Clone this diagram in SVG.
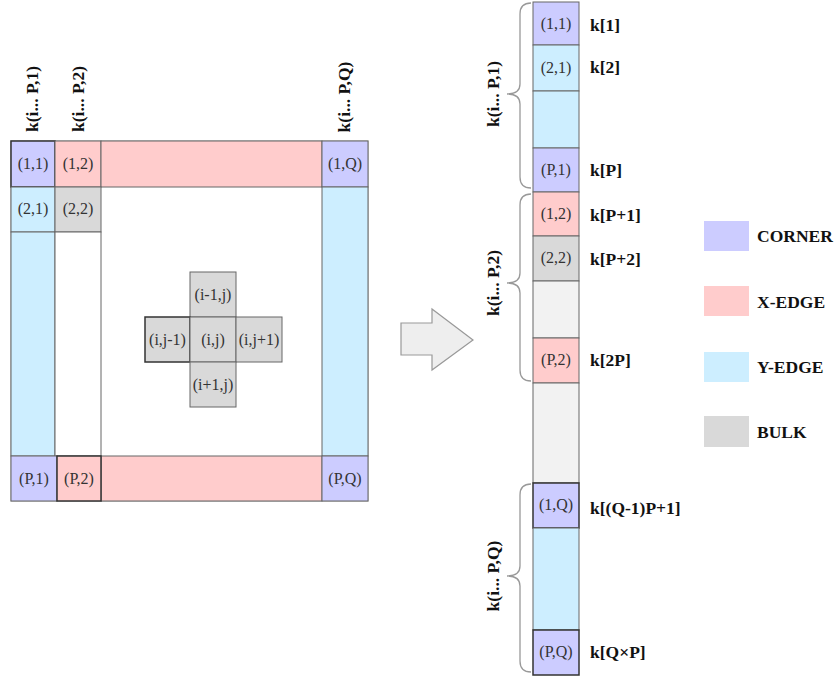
<svg xmlns="http://www.w3.org/2000/svg" width="837" height="678" viewBox="0 0 837 678">
  <style>
    .corner { fill: #ccccff; }
    .xedge { fill: #ffcccc; }
    .yedge { fill: #cdeeff; }
    .bulk { fill: #d9d9d9; }
    .bulk-lt { fill: #f2f2f2; }
    .cell { stroke: #666; stroke-width: 1; }
    .dark { stroke: #333; stroke-width: 1.5; }
    .lbl { font-family: "Liberation Serif", "Times New Roman", serif; font-size: 16px; fill: #333; text-anchor: middle; }
    .key { font-family: "Liberation Serif", "Times New Roman", serif; font-size: 17.5px; font-weight: bold; fill: #111; }
    .rot { font-family: "Liberation Serif", "Times New Roman", serif; font-size: 17.5px; font-weight: bold; fill: #111; text-anchor: middle; }
    .brace { fill: none; stroke: #999; stroke-width: 1.3; }
  </style>

  <!-- 2D grid -->
  <g id="grid">
    <rect x="11" y="141" width="357" height="360" fill="#fff" stroke="#999"/>
    <!-- top row -->
    <rect class="corner dark" x="11" y="141" width="44" height="46"/>
    <rect class="xedge cell" x="55" y="141" width="46" height="46"/>
    <rect class="xedge cell" x="101" y="141" width="221" height="46"/>
    <rect class="corner cell" x="322" y="141" width="46" height="46"/>
    <!-- column 1 -->
    <rect class="yedge cell" x="11" y="187" width="44" height="45"/>
    <rect class="yedge cell" x="11" y="232" width="44" height="224"/>
    <!-- column 2 -->
    <rect class="bulk cell" x="55" y="187" width="46" height="45"/>
    <rect fill="#fff" class="cell" x="55" y="232" width="46" height="224"/>
    <!-- column Q -->
    <rect class="yedge cell" x="322" y="187" width="46" height="269"/>
    <!-- bottom row -->
    <rect class="corner cell" x="11" y="456" width="46" height="45"/>
    <rect class="xedge cell" x="101" y="456" width="221" height="45"/>
    <rect class="corner cell" x="322" y="456" width="46" height="45"/>
    <rect class="xedge dark" x="57" y="456" width="44" height="45"/>

    <text class="lbl" x="33" y="169">(1,1)</text>
    <text class="lbl" x="78" y="169">(1,2)</text>
    <text class="lbl" x="345" y="169">(1,Q)</text>
    <text class="lbl" x="33" y="214">(2,1)</text>
    <text class="lbl" x="78" y="214">(2,2)</text>
    <text class="lbl" x="34" y="484">(P,1)</text>
    <text class="lbl" x="79" y="484">(P,2)</text>
    <text class="lbl" x="345" y="484">(P,Q)</text>

    <text class="rot" transform="translate(38,99) rotate(-90)">k(i... P,1)</text>
    <text class="rot" transform="translate(84,99) rotate(-90)">k(i... P,2)</text>
    <text class="rot" transform="translate(350,97) rotate(-90)">k(i... P,Q)</text>
  </g>

  <!-- five-point stencil -->
  <g id="stencil">
    <rect class="bulk cell" x="190" y="272" width="46" height="45"/>
    <rect class="bulk dark" x="145" y="317" width="45" height="45"/>
    <rect class="bulk cell" x="190" y="317" width="46" height="45"/>
    <rect class="bulk cell" x="236" y="317" width="46" height="45"/>
    <rect class="bulk cell" x="190" y="362" width="46" height="45"/>
    <text class="lbl" x="213" y="300">(i-1,j)</text>
    <text class="lbl" x="167.5" y="345">(i,j-1)</text>
    <text class="lbl" x="213" y="345">(i,j)</text>
    <text class="lbl" x="259" y="345">(i,j+1)</text>
    <text class="lbl" x="213" y="390">(i+1,j)</text>
  </g>

  <!-- mapping arrow -->
  <g id="arrow">
    <polygon points="401,323 432,323 432,309 473,340 432,370 432,355 401,355" fill="#eeeeee" stroke="#999" stroke-width="1.2"/>
  </g>

  <!-- 1D vector -->
  <g id="vector">
    <rect class="corner cell" x="533" y="2" width="46" height="43"/>
    <rect class="yedge cell" x="533" y="45" width="46" height="46"/>
    <rect class="yedge cell" x="533" y="91" width="46" height="57"/>
    <rect class="corner cell" x="533" y="148" width="46" height="44"/>
    <rect class="xedge cell" x="533" y="192" width="46" height="44"/>
    <rect class="bulk cell" x="533" y="236" width="46" height="45"/>
    <rect class="bulk-lt cell" x="533" y="281" width="46" height="57"/>
    <rect class="xedge cell" x="533" y="338" width="46" height="45"/>
    <rect class="bulk-lt cell" x="533" y="383" width="46" height="100"/>
    <rect class="corner dark" x="533" y="483" width="46" height="45"/>
    <rect class="yedge cell" x="533" y="528" width="46" height="102"/>
    <rect class="corner dark" x="533" y="630" width="46" height="45"/>

    <text class="lbl" x="556" y="29">(1,1)</text>
    <text class="lbl" x="556" y="73">(2,1)</text>
    <text class="lbl" x="556" y="175">(P,1)</text>
    <text class="lbl" x="556" y="219">(1,2)</text>
    <text class="lbl" x="556" y="263">(2,2)</text>
    <text class="lbl" x="556" y="365">(P,2)</text>
    <text class="lbl" x="556" y="510">(1,Q)</text>
    <text class="lbl" x="556" y="657">(P,Q)</text>

    <text class="key" x="590" y="31">k[1]</text>
    <text class="key" x="590" y="73">k[2]</text>
    <text class="key" x="590" y="176">k[P]</text>
    <text class="key" x="590" y="221">k[P+1]</text>
    <text class="key" x="590" y="265">k[P+2]</text>
    <text class="key" x="590" y="366">k[2P]</text>
    <text class="key" x="590" y="514">k[(Q-1)P+1]</text>
    <text class="key" x="590" y="658">k[Q×P]</text>
  </g>

  <!-- braces grouping each column -->
  <g id="braces">
    <path class="brace" d="M531,3 Q520,3 520,14 L520,84 Q520,94 507,94 Q520,94 520,104 L520,177 Q520,188 531,188"/>
    <path class="brace" d="M531,194 Q520,194 520,205 L520,273 Q520,283 507,283 Q520,283 520,293 L520,370 Q520,381 531,381"/>
    <path class="brace" d="M531,484 Q520,484 520,495 L520,566 Q520,576 507,576 Q520,576 520,586 L520,661 Q520,672 531,672"/>
    <text class="rot" transform="translate(499,94) rotate(-90)">k(i... P,1)</text>
    <text class="rot" transform="translate(499,283) rotate(-90)">k(i... P,2)</text>
    <text class="rot" transform="translate(499,576) rotate(-90)">k(i... P,Q)</text>
  </g>

  <!-- legend -->
  <g id="legend">
    <rect class="corner" x="704" y="221" width="45" height="30"/>
    <rect class="xedge" x="704" y="286" width="45" height="30"/>
    <rect class="yedge" x="704" y="352" width="45" height="30"/>
    <rect class="bulk" x="704" y="416" width="45" height="31"/>
    <text class="key" x="757" y="242">CORNER</text>
    <text class="key" x="757" y="308">X-EDGE</text>
    <text class="key" x="757" y="373">Y-EDGE</text>
    <text class="key" x="757" y="438">BULK</text>
  </g>
</svg>
